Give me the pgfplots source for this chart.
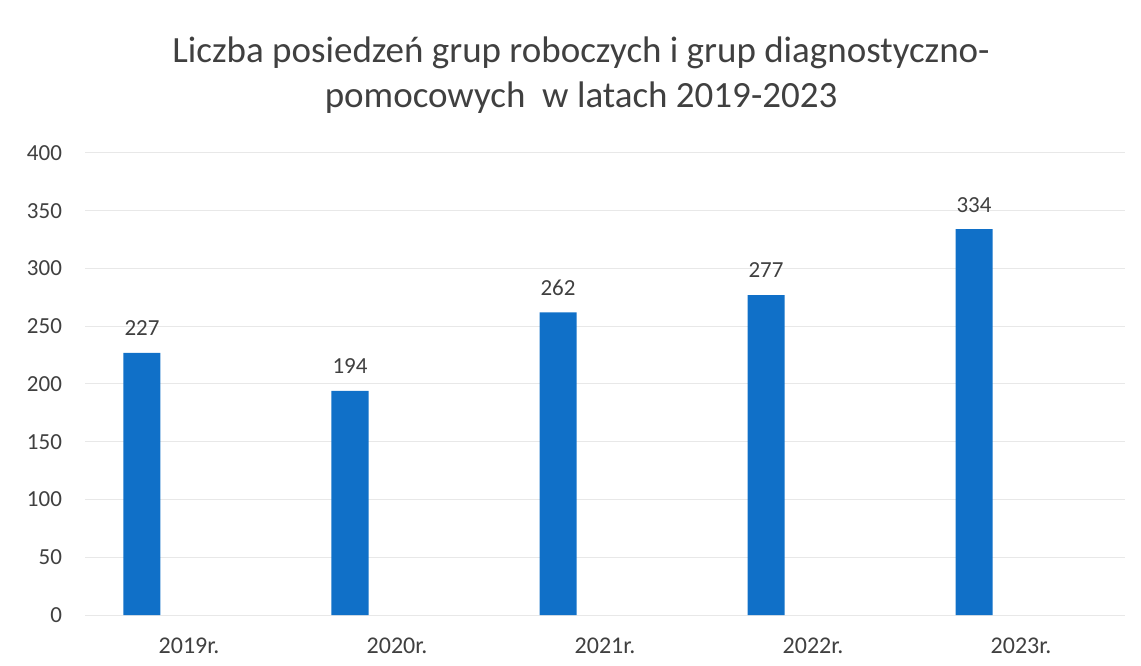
\documentclass[border=0pt]{standalone}
\usepackage{pgfplots}
\pgfplotsset{compat=1.18}
\usepackage{fontspec}
\setmainfont{Carlito}
\definecolor{barblue}{RGB}{16,112,200}
\definecolor{txt}{RGB}{64,64,64}
\begin{document}
\begin{tikzpicture}
\path[use as bounding box] (-42.5pt,-25pt) rectangle (528pt,307.5pt);
\begin{axis}[
    scale only axis,
    width=520pt, height=231pt,
    xmin=-0.5, xmax=4.5,
    ymin=0, ymax=400,
    ytick={0,50,...,400},
    xtick={0,1,2,3,4},
    xticklabels={2019r.,2020r.,2021r.,2022r.,2023r.},
    ybar,
    bar width=18.5pt,
    bar shift=-23.5pt,
    axis line style={draw=none},
    major tick length=0pt,
    ymajorgrids=true,
    grid style={draw=black!9, line width=0.5pt},
    /pgf/number format/assume math mode=true,
    ticklabel style={font=\fontsize{11.5pt}{13pt}\selectfont, text=txt},
    yticklabel style={xshift=-8pt},
    xticklabel style={yshift=-8pt, font=\fontsize{12pt}{14pt}\selectfont},
    nodes near coords,
    nodes near coords style={font=\fontsize{11.5pt}{13pt}\selectfont, text=txt, anchor=south, yshift=5pt},
    title={Liczba posiedzeń grup roboczych i grup diagnostyczno-\\pomocowych\ \ w latach 2019-2023},
    title style={at={(0.477,1)}, anchor=south, yshift=10pt, align=center,
        font=\fontsize{18.5pt}{22.5pt}\selectfont, text=txt},
]
\addplot[fill=barblue, draw=none] coordinates {
    (0,227) (1,194) (2,262) (3,277) (4,334)
};
\end{axis}
\end{tikzpicture}
\end{document}
